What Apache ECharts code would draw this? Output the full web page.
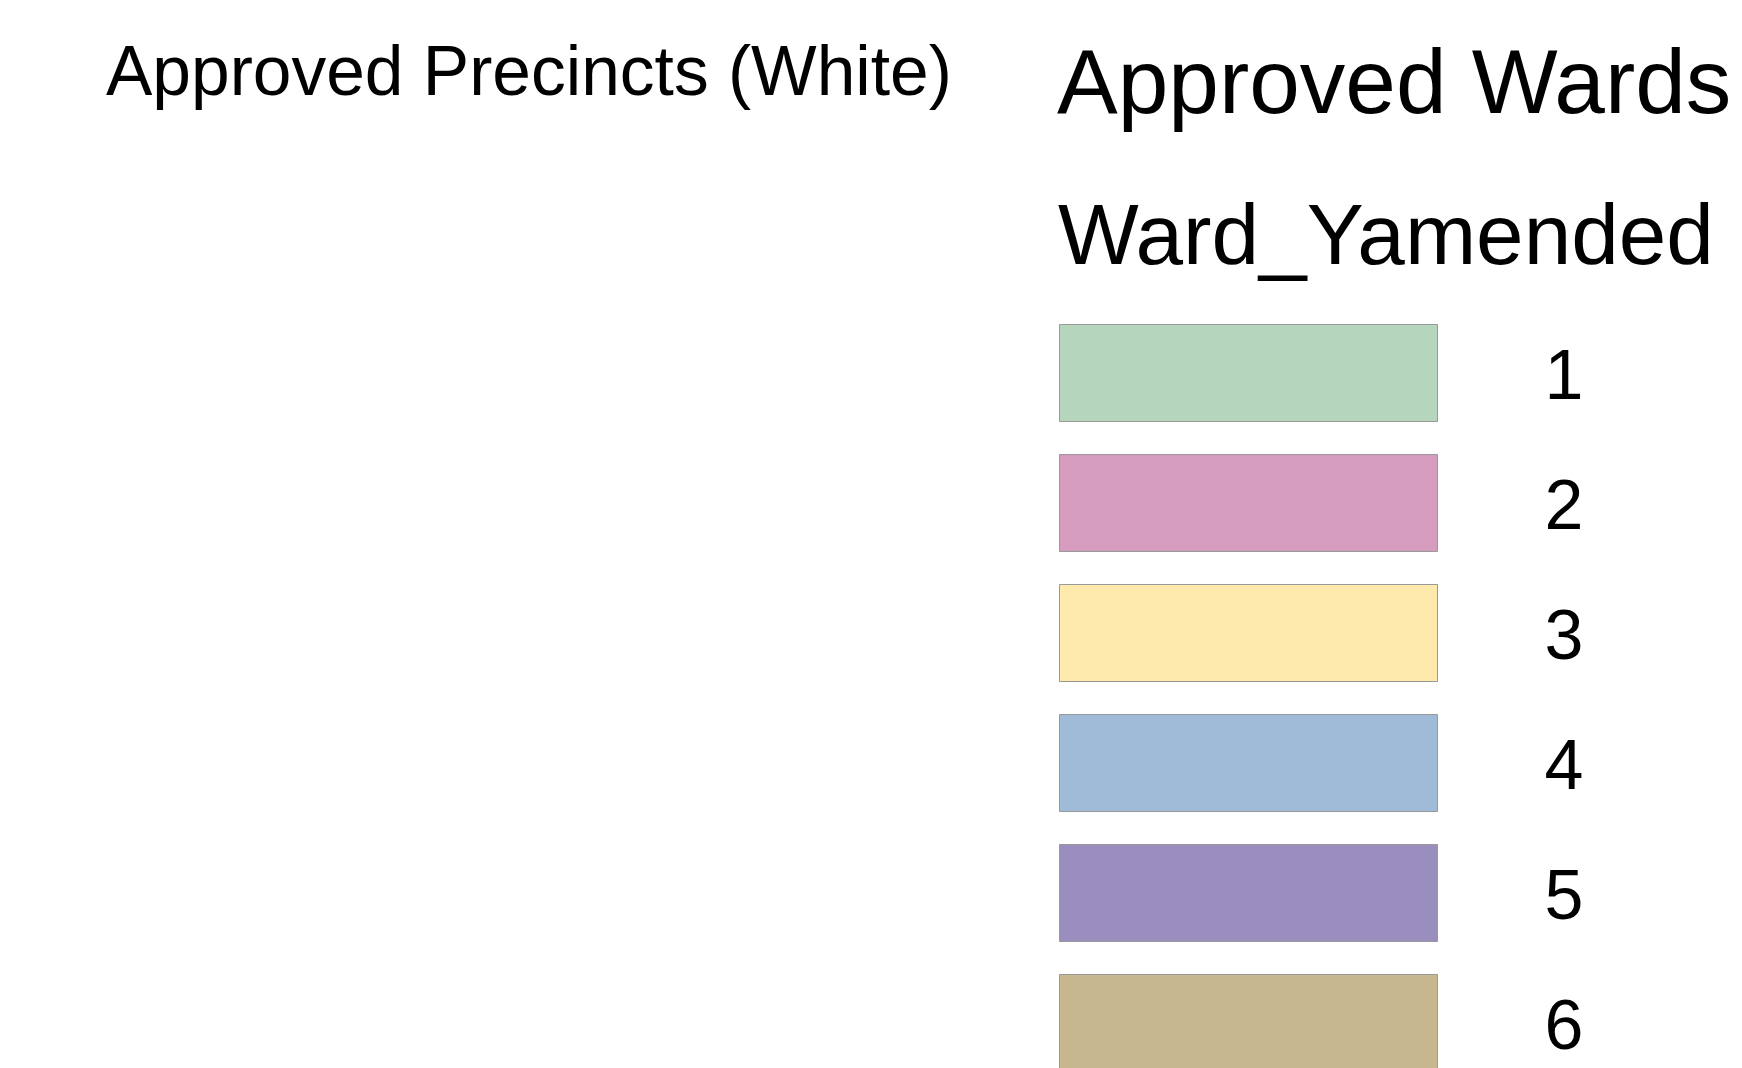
<!DOCTYPE html>
<html>
<head>
<meta charset="utf-8">
<script src="https://cdn.jsdelivr.net/npm/echarts@6/dist/echarts.min.js"></script>
<style>
  html, body { margin: 0; padding: 0; background: #fff; }
  #chart { width: 1742px; height: 1068px; }
</style>
</head>
<body>
<div id="chart"></div>
<script>
// legend categories and fill colours
const wards = ['1', '2', '3', '4', '5', '6']
const wardColors = ['#b5d6bc', '#d69cbd', '#ffeaae', '#9fbbd7', '#9a8ebe', '#c7b78e']
const mapTitle = 'Approved Precincts (White)'
const legendTitle = 'Approved Wards'
const fieldName = 'Ward_Yamended'

const font = '"Liberation Sans", Arial, sans-serif'

const chart = echarts.init(document.getElementById('chart'))

// one empty series per ward, only used to feed the legend
const series = wards.map((w, i) => ({
  name: w,
  type: 'bar',
  data: [],
  itemStyle: { color: wardColors[i] }
}))

chart.setOption({
  backgroundColor: '#fff',
  animation: false,
  title: [
    {
      text: mapTitle,
      left: 106,
      top: 41,
      padding: 0,
      textStyle: { fontFamily: font, fontSize: 69.5, fontWeight: 'normal', color: '#000', lineHeight: 69 }
    },
    {
      text: legendTitle,
      left: 1057,
      top: 43,
      padding: 0,
      textStyle: { fontFamily: font, fontSize: 91, fontWeight: 'normal', color: '#000', lineHeight: 90 }
    },
    {
      text: fieldName,
      left: 1058,
      top: 198,
      padding: 0,
      textStyle: { fontFamily: font, fontSize: 85.5, fontWeight: 'normal', color: '#000', lineHeight: 84 }
    }
  ],
  legend: {
    orient: 'vertical',
    left: 1059,
    top: 324,
    height: 800,
    padding: 0,
    icon: 'rect',
    itemWidth: 378,
    itemHeight: 97,
    itemGap: 32,
    selectedMode: false,
    itemStyle: { borderColor: '#999', borderWidth: 1 },
    formatter: '{d|{name}}',
    textStyle: {
      rich: {
        d: {
          fontFamily: font,
          fontSize: 70,
          color: '#000',
          lineHeight: 70,
          padding: [14, 0, 0, 102]
        }
      }
    },
    data: wards
  },
  grid: { show: false },
  xAxis: { show: false, type: 'value' },
  yAxis: { show: false, type: 'category', data: wards },
  series: series
})
</script>
</body>
</html>
